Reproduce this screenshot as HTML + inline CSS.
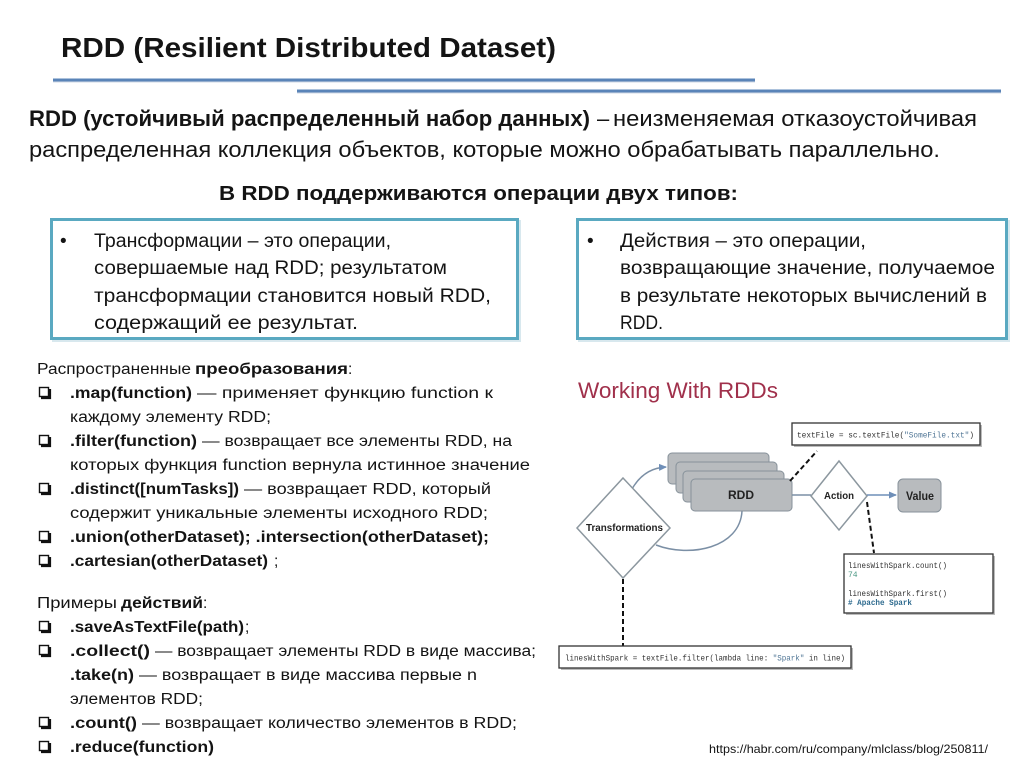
<!DOCTYPE html>
<html>
<head>
<meta charset="utf-8">
<style>
html,body{margin:0;padding:0;background:#fff;}
svg{display:block;}
.t{font-family:"Liberation Sans","DejaVu Sans",sans-serif;fill:#141414;}
.b{font-weight:bold;}
.m{font-family:"Liberation Mono","DejaVu Sans Mono",monospace;fill:#333;}
</style>
</head>
<body>
<svg width="1024" height="767" viewBox="0 0 1024 767" xmlns="http://www.w3.org/2000/svg">
<defs>
  <marker id="ah" markerWidth="8" markerHeight="8" refX="7" refY="4" orient="auto" markerUnits="userSpaceOnUse">
    <path d="M0,0.5 L8,4 L0,7.5 Z" fill="#6f8fb8"/>
  </marker>
</defs>
<rect width="1024" height="767" fill="#fff"/>

<!-- Title -->
<text class="t b" x="61" y="57" font-size="28" textLength="495" lengthAdjust="spacingAndGlyphs">RDD (Resilient Distributed Dataset)</text>

<!-- decorative lines -->
<line x1="53" y1="81.5" x2="755" y2="81.5" stroke="#d0d8e4" stroke-width="2"/>
<line x1="53" y1="80" x2="755" y2="80" stroke="#5a84b8" stroke-width="3"/>
<line x1="297" y1="92.5" x2="1001" y2="92.5" stroke="#d0d8e4" stroke-width="2"/>
<line x1="297" y1="91" x2="1001" y2="91" stroke="#5a84b8" stroke-width="3"/>

<!-- Paragraph -->
<text class="t b" x="29" y="126" font-size="22" textLength="561" lengthAdjust="spacingAndGlyphs">RDD (устойчивый распределенный набор данных)</text>
<text class="t" x="597" y="126" font-size="22">–</text>
<text class="t" x="613" y="126" font-size="22" textLength="364" lengthAdjust="spacingAndGlyphs">неизменяемая отказоустойчивая</text>
<text class="t" x="29" y="157" font-size="22" textLength="911" lengthAdjust="spacingAndGlyphs">распределенная коллекция объектов, которые можно обрабатывать параллельно.</text>

<text class="t b" x="219" y="200" font-size="20" textLength="519" lengthAdjust="spacingAndGlyphs">В RDD поддерживаются операции двух типов:</text>

<!-- Boxes -->
<rect x="53" y="221" width="467" height="120" fill="none" stroke="#d8e8ee" stroke-width="2"/>
<rect x="51.5" y="219.5" width="466" height="119" fill="#fff" stroke="#5aa9c1" stroke-width="3"/>
<rect x="579" y="221" width="430" height="120" fill="none" stroke="#d8e8ee" stroke-width="2"/>
<rect x="577.5" y="219.5" width="429" height="119" fill="#fff" stroke="#5aa9c1" stroke-width="3"/>

<text class="t" x="60" y="247" font-size="19">•</text>
<text class="t" x="94" y="247" font-size="19" textLength="297" lengthAdjust="spacingAndGlyphs">Трансформации – это операции,</text>
<text class="t" x="94" y="274" font-size="19" textLength="353" lengthAdjust="spacingAndGlyphs">совершаемые над RDD; результатом</text>
<text class="t" x="94" y="302" font-size="19" textLength="397" lengthAdjust="spacingAndGlyphs">трансформации становится новый RDD,</text>
<text class="t" x="94" y="329" font-size="19" textLength="264" lengthAdjust="spacingAndGlyphs">содержащий ее результат.</text>

<text class="t" x="587" y="247" font-size="19">•</text>
<text class="t" x="620" y="247" font-size="19" textLength="246" lengthAdjust="spacingAndGlyphs">Действия – это операции,</text>
<text class="t" x="620" y="274" font-size="19" textLength="375" lengthAdjust="spacingAndGlyphs">возвращающие значение, получаемое</text>
<text class="t" x="620" y="302" font-size="19" textLength="367" lengthAdjust="spacingAndGlyphs">в результате некоторых вычислений в</text>
<text class="t" x="620" y="329" font-size="19" textLength="43" lengthAdjust="spacingAndGlyphs">RDD.</text>

<!-- Lower left list -->
<g font-size="15.5">
<text class="t" x="37" y="374" textLength="154" lengthAdjust="spacingAndGlyphs">Распространенные</text>
<text class="t b" x="195" y="374" textLength="153" lengthAdjust="spacingAndGlyphs">преобразования</text>
<text class="t" x="348" y="374">:</text>

<text class="t b" x="70" y="398" textLength="122" lengthAdjust="spacingAndGlyphs">.map(function)</text>
<text class="t" x="197" y="398" textLength="296" lengthAdjust="spacingAndGlyphs">— применяет функцию function к</text>
<text class="t" x="70" y="422" textLength="201" lengthAdjust="spacingAndGlyphs">каждому элементу RDD;</text>
<text class="t b" x="70" y="446" textLength="127" lengthAdjust="spacingAndGlyphs">.filter(function)</text>
<text class="t" x="202" y="446" textLength="310" lengthAdjust="spacingAndGlyphs">— возвращает все элементы RDD, на</text>
<text class="t" x="70" y="470" textLength="460" lengthAdjust="spacingAndGlyphs">которых функция function вернула истинное значение</text>
<text class="t b" x="70" y="494" textLength="169" lengthAdjust="spacingAndGlyphs">.distinct([numTasks])</text>
<text class="t" x="244" y="494" textLength="247" lengthAdjust="spacingAndGlyphs">— возвращает RDD, который</text>
<text class="t" x="70" y="518" textLength="418" lengthAdjust="spacingAndGlyphs">содержит уникальные элементы исходного RDD;</text>
<text class="t b" x="70" y="542" textLength="419" lengthAdjust="spacingAndGlyphs">.union(otherDataset); .intersection(otherDataset);</text>
<text class="t b" x="70" y="566" textLength="198" lengthAdjust="spacingAndGlyphs">.cartesian(otherDataset)</text>
<text class="t" x="274" y="566">;</text>

<text class="t" x="37" y="608" textLength="80" lengthAdjust="spacingAndGlyphs">Примеры</text>
<text class="t b" x="121" y="608" textLength="82" lengthAdjust="spacingAndGlyphs">действий</text>
<text class="t" x="203" y="608">:</text>

<text class="t b" x="70" y="632" textLength="174" lengthAdjust="spacingAndGlyphs">.saveAsTextFile(path)</text>
<text class="t" x="245" y="632">;</text>
<text class="t b" x="70" y="656" textLength="80" lengthAdjust="spacingAndGlyphs">.collect()</text>
<text class="t" x="155" y="656" textLength="381" lengthAdjust="spacingAndGlyphs">— возвращает элементы RDD в виде массива;</text>
<text class="t b" x="70" y="680" textLength="64" lengthAdjust="spacingAndGlyphs">.take(n)</text>
<text class="t" x="139" y="680" textLength="338" lengthAdjust="spacingAndGlyphs">— возвращает в виде массива первые n</text>
<text class="t" x="70" y="704" textLength="133" lengthAdjust="spacingAndGlyphs">элементов RDD;</text>
<text class="t b" x="70" y="728" textLength="67" lengthAdjust="spacingAndGlyphs">.count()</text>
<text class="t" x="142" y="728" textLength="375" lengthAdjust="spacingAndGlyphs">— возвращает количество элементов в RDD;</text>
<text class="t b" x="70" y="752" textLength="144" lengthAdjust="spacingAndGlyphs">.reduce(function)</text>
</g>

<!-- checkboxes -->
<g fill="#fff" stroke="#111" stroke-width="1.4">
  <rect x="39.5" y="387.5" width="9" height="9"/><path d="M41,398 H50 V389" fill="none" stroke-width="2.2"/>
  <rect x="39.5" y="435.5" width="9" height="9"/><path d="M41,446 H50 V437" fill="none" stroke-width="2.2"/>
  <rect x="39.5" y="483.5" width="9" height="9"/><path d="M41,494 H50 V485" fill="none" stroke-width="2.2"/>
  <rect x="39.5" y="531.5" width="9" height="9"/><path d="M41,542 H50 V533" fill="none" stroke-width="2.2"/>
  <rect x="39.5" y="555.5" width="9" height="9"/><path d="M41,566 H50 V557" fill="none" stroke-width="2.2"/>
  <rect x="39.5" y="621.5" width="9" height="9"/><path d="M41,632 H50 V623" fill="none" stroke-width="2.2"/>
  <rect x="39.5" y="645.5" width="9" height="9"/><path d="M41,656 H50 V647" fill="none" stroke-width="2.2"/>
  <rect x="39.5" y="717.5" width="9" height="9"/><path d="M41,728 H50 V719" fill="none" stroke-width="2.2"/>
  <rect x="39.5" y="741.5" width="9" height="9"/><path d="M41,752 H50 V743" fill="none" stroke-width="2.2"/>
</g>

<!-- Diagram -->
<text x="578" y="398" font-family="Liberation Sans, sans-serif" font-size="22" fill="#a0304b" textLength="200" lengthAdjust="spacingAndGlyphs">Working With RDDs</text>

<!-- textFile code box -->
<rect x="794" y="425" width="188" height="22" fill="#bbb"/>
<rect x="792" y="423" width="188" height="22" fill="#fff" stroke="#333" stroke-width="1.3"/>
<text class="m" x="797" y="437.5" font-size="8" textLength="177" lengthAdjust="spacingAndGlyphs">textFile = sc.textFile(<tspan fill="#4f7595">"SomeFile.txt"</tspan>)</text>

<!-- curves -->
<path d="M632,489 Q644,468 666,467" fill="none" stroke="#7b8fa5" stroke-width="1.5" marker-end="url(#ah)"/>
<path d="M742,511 C740,548 690,558 656,545" fill="none" stroke="#7b8fa5" stroke-width="1.5"/>

<!-- RDD stack -->
<g fill="#b8bbbe" stroke="#87929b" stroke-width="1">
  <rect x="668" y="453" width="101" height="31" rx="4"/>
  <rect x="676" y="462" width="101" height="31" rx="4"/>
  <rect x="683" y="471" width="101" height="31" rx="4"/>
  <rect x="691" y="479" width="101" height="32" rx="4"/>
</g>
<text x="741" y="499" text-anchor="middle" font-family="Liberation Sans, sans-serif" font-weight="bold" font-size="12" fill="#222">RDD</text>

<!-- Transformations diamond -->
<polygon points="623,478 670,528 623,578 577,528" fill="#fff" stroke="#8c979f" stroke-width="1.5"/>
<text x="586" y="531" font-family="Liberation Sans, sans-serif" font-weight="bold" font-size="10" fill="#222" textLength="77" lengthAdjust="spacingAndGlyphs">Transformations</text>

<!-- RDD to Action -->
<line x1="792" y1="495" x2="811" y2="495" stroke="#7b8fa5" stroke-width="1.5"/>
<polygon points="839,461 867,496 839,530 811,496" fill="#fff" stroke="#8c979f" stroke-width="1.5"/>
<text x="824" y="499" font-family="Liberation Sans, sans-serif" font-weight="bold" font-size="10" fill="#222" textLength="30" lengthAdjust="spacingAndGlyphs">Action</text>

<line x1="867" y1="495" x2="896" y2="495" stroke="#6f8fb8" stroke-width="1.5" marker-end="url(#ah)"/>
<rect x="898" y="479" width="43" height="33" rx="5" fill="#b8bbbe" stroke="#87929b" stroke-width="1"/>
<text x="906" y="500" font-family="Liberation Sans, sans-serif" font-weight="bold" font-size="12" fill="#222" textLength="28" lengthAdjust="spacingAndGlyphs">Value</text>

<!-- dashed lines -->
<g stroke="#111" stroke-width="2" stroke-dasharray="5,3" fill="none">
  <line x1="790" y1="481" x2="817" y2="451"/>
  <line x1="867" y1="502" x2="874" y2="553"/>
  <line x1="623" y1="579" x2="623" y2="646"/>
</g>

<!-- count box -->
<rect x="846" y="556" width="149" height="59" fill="#bbb"/>
<rect x="844" y="554" width="149" height="59" fill="#fff" stroke="#333" stroke-width="1.3"/>
<text class="m" x="848" y="568" font-size="8" textLength="99" lengthAdjust="spacingAndGlyphs">linesWithSpark.count()</text>
<text class="m" x="848" y="577" font-size="8" style="fill:#4f9a86">74</text>
<text class="m" x="848" y="596" font-size="8" textLength="99" lengthAdjust="spacingAndGlyphs">linesWithSpark.first()</text>
<text class="m" x="848" y="605" font-size="8" font-weight="bold" style="fill:#2d6a8e" textLength="64" lengthAdjust="spacingAndGlyphs"># Apache Spark</text>

<!-- lower code box -->
<rect x="561" y="648" width="292" height="22" fill="#bbb"/>
<rect x="559" y="646" width="292" height="22" fill="#fff" stroke="#333" stroke-width="1.3"/>
<text class="m" x="565" y="660.5" font-size="8" textLength="280" lengthAdjust="spacingAndGlyphs">linesWithSpark = textFile.filter(lambda line: <tspan fill="#4f7595">"Spark"</tspan> in line)</text>

<!-- URL -->
<text class="t" x="709" y="753" font-size="12" textLength="279" lengthAdjust="spacingAndGlyphs">https://habr.com/ru/company/mlclass/blog/250811/</text>
</svg>
</body>
</html>
